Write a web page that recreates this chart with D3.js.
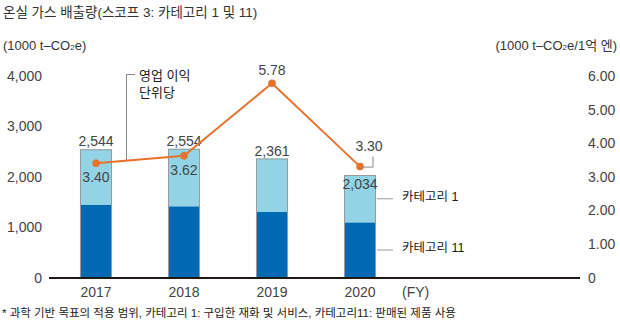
<!DOCTYPE html>
<html>
<head>
<meta charset="utf-8">
<script src="https://cdn.jsdelivr.net/npm/d3@7"></script>
<style>
  body { margin: 0; background: #fff; }
  svg text { font-family: "Liberation Sans", "Noto Sans CJK KR", sans-serif; }
</style>
</head>
<body>
<div id="chart"></div>
<script>
// scope 3 emissions, category 1 + 11, with intensity per 100M yen
var years = ["2017", "2018", "2019", "2020"];
var cat11 = [1440, 1410, 1300, 1090];
var totals = [2544, 2554, 2361, 2034];
var intensity = [3.40, 3.62, 5.78, 3.30];
var leftTicks = [0, 1000, 2000, 3000, 4000];
var rightTicks = [0, 1, 2, 3, 4, 5, 6];

var w = 620, h = 335;
var lightBlue = "#93d3e6", darkBlue = "#0069b4", orange = "#e8712c";

var svg = d3.select("#chart").append("svg")
  .attr("width", w)
  .attr("height", h);

var x = d3.scaleBand()
  .domain(years)
  .range([49, 407])
  .paddingInner(0.636)
  .paddingOuter(0.352);

var y = d3.scaleLinear().domain([0, 4000]).range([277.5, 75.9]);
var y2 = d3.scaleLinear().domain([0, 6]).range([277.5, 75.9]);

var rows = years.map(function(yr, i) {
  return { year: yr, c11: cat11[i], total: totals[i], c1: totals[i] - cat11[i], k: intensity[i] };
});

// titles
svg.append("text")
  .attr("x", 3).attr("y", 17)
  .attr("font-size", 13.5).attr("fill", "#333")
  .text("온실 가스 배출량(스코프 3: 카테고리 1 및 11)");

function unitLabel(xp, anchor, tail) {
  var t = svg.append("text")
    .attr("x", xp).attr("y", 50)
    .attr("font-size", 13).attr("fill", "#333")
    .attr("text-anchor", anchor);
  t.append("tspan").text("(1000 t–CO");
  t.append("tspan").attr("font-size", 8).text("2");
  t.append("tspan").text("e" + tail);
}
unitLabel(3, "start", ")");
unitLabel(617, "end", "/1억 엔)");

// left axis labels
svg.append("g").selectAll("text")
  .data(leftTicks)
  .enter().append("text")
  .attr("x", 42)
  .attr("y", function(d) { return y(d) + 5; })
  .attr("text-anchor", "end")
  .attr("font-size", 14).attr("fill", "#444")
  .text(function(d) { return d3.format(",")(d); });

// right axis labels
svg.append("g").selectAll("text")
  .data(rightTicks)
  .enter().append("text")
  .attr("x", 588)
  .attr("y", function(d) { return y2(d) + 5; })
  .attr("font-size", 14).attr("fill", "#444")
  .text(function(d) { return d === 0 ? "0" : d3.format(".2f")(d); });

// stacked bars
var bars = svg.append("g").selectAll("g")
  .data(rows)
  .enter().append("g");

bars.append("rect")
  .attr("x", function(d) { return x(d.year); })
  .attr("y", function(d) { return y(d.total); })
  .attr("width", x.bandwidth())
  .attr("height", function(d) { return y(d.c11) - y(d.total); })
  .attr("fill", lightBlue);

bars.append("rect")
  .attr("x", function(d) { return x(d.year); })
  .attr("y", function(d) { return y(d.c11); })
  .attr("width", x.bandwidth())
  .attr("height", function(d) { return y(0) - y(d.c11); })
  .attr("fill", darkBlue);

bars.append("rect")
  .attr("x", function(d) { return x(d.year) + 0.5; })
  .attr("y", function(d) { return y(d.total) + 0.5; })
  .attr("width", x.bandwidth() - 1)
  .attr("height", function(d) { return y(0) - y(d.total) - 0.5; })
  .attr("fill", "none")
  .attr("stroke", "#9a9a9a")
  .attr("stroke-width", 1);

// total labels (last one sits inside the bar)
bars.append("text")
  .attr("x", function(d) { return x(d.year) + x.bandwidth() / 2; })
  .attr("y", function(d, i) { return i === 3 ? y(d.total) + 14 : y(d.total) - 3; })
  .attr("text-anchor", "middle")
  .attr("font-size", 14).attr("fill", "#444")
  .text(function(d) { return d3.format(",")(d.total); });

// baseline
svg.append("line")
  .attr("x1", 49).attr("x2", 580)
  .attr("y1", y(0) + 0.5).attr("y2", y(0) + 0.5)
  .attr("stroke", "#231815").attr("stroke-width", 2);

// year labels
svg.append("g").selectAll("text")
  .data(years)
  .enter().append("text")
  .attr("x", function(d) { return x(d) + x.bandwidth() / 2; })
  .attr("y", 297)
  .attr("text-anchor", "middle")
  .attr("font-size", 14).attr("fill", "#444")
  .text(function(d) { return d; });

svg.append("text")
  .attr("x", 402).attr("y", 297)
  .attr("font-size", 14).attr("fill", "#444")
  .text("(FY)");

// intensity line
var cx = function(d) { return x(d.year) + x.bandwidth() / 2; };

svg.append("path")
  .datum(rows)
  .attr("fill", "none")
  .attr("stroke", orange)
  .attr("stroke-width", 2)
  .attr("d", d3.line().x(cx).y(function(d) { return y2(d.k); }));

svg.append("g").selectAll("circle")
  .data(rows)
  .enter().append("circle")
  .attr("cx", cx)
  .attr("cy", function(d) { return y2(d.k); })
  .attr("r", 3.8)
  .attr("fill", orange);

// intensity labels
var kOffset = [
  { dx: 0, dy: 19 },
  { dx: 0, dy: 19 },
  { dx: 0, dy: -8 },
  { dx: 9, dy: -16 }
];
svg.append("g").selectAll("text")
  .data(rows)
  .enter().append("text")
  .attr("x", function(d, i) { return cx(d) + kOffset[i].dx; })
  .attr("y", function(d, i) { return y2(d.k) + kOffset[i].dy; })
  .attr("text-anchor", "middle")
  .attr("font-size", 14).attr("fill", "#444")
  .text(function(d) { return d3.format(".2f")(d.k); });

// leader for the 2020 intensity label
var last = rows[3];
svg.append("path")
  .attr("fill", "none")
  .attr("stroke", "#888")
  .attr("stroke-width", 1)
  .attr("d", "M" + (cx(last) + 2) + "," + (y2(last.k) + 0.5) +
             "H" + (cx(last) + 13) + "V" + (y2(last.k) - 10));

// line annotation
svg.append("path")
  .attr("fill", "none")
  .attr("stroke", "#888")
  .attr("stroke-width", 1)
  .attr("d", "M135,74.5H126.5V" + (y2(3.46) - 1));

svg.append("text")
  .attr("x", 139).attr("y", 80)
  .attr("font-size", 13).attr("fill", "#1a1a1a")
  .text("영업 이익");
svg.append("text")
  .attr("x", 139).attr("y", 97)
  .attr("font-size", 13).attr("fill", "#1a1a1a")
  .text("단위당");

// series legend with leaders off the middle of each 2020 segment
var barRight = x("2020") + x.bandwidth();
var legendItems = [
  { name: "카테고리 1", yv: y((last.c11 + last.total) / 2) },
  { name: "카테고리 11", yv: y(last.c11 / 2) }
];
var lg = svg.append("g").selectAll("g")
  .data(legendItems)
  .enter().append("g");

lg.append("line")
  .attr("x1", barRight + 1).attr("x2", barRight + 17)
  .attr("y1", function(d) { return d.yv; })
  .attr("y2", function(d) { return d.yv; })
  .attr("stroke", "#999").attr("stroke-width", 1);

lg.append("text")
  .attr("x", 402)
  .attr("y", function(d) { return d.yv + 2; })
  .attr("font-size", 12.5).attr("fill", "#1a1a1a")
  .text(function(d) { return d.name; });

// footnote
svg.append("text")
  .attr("x", 2).attr("y", 317)
  .attr("font-size", 11.5).attr("fill", "#222")
  .text("* 과학 기반 목표의 적용 범위, 카테고리 1: 구입한 재화 및 서비스, 카테고리11: 판매된 제품 사용");
</script>
</body>
</html>
